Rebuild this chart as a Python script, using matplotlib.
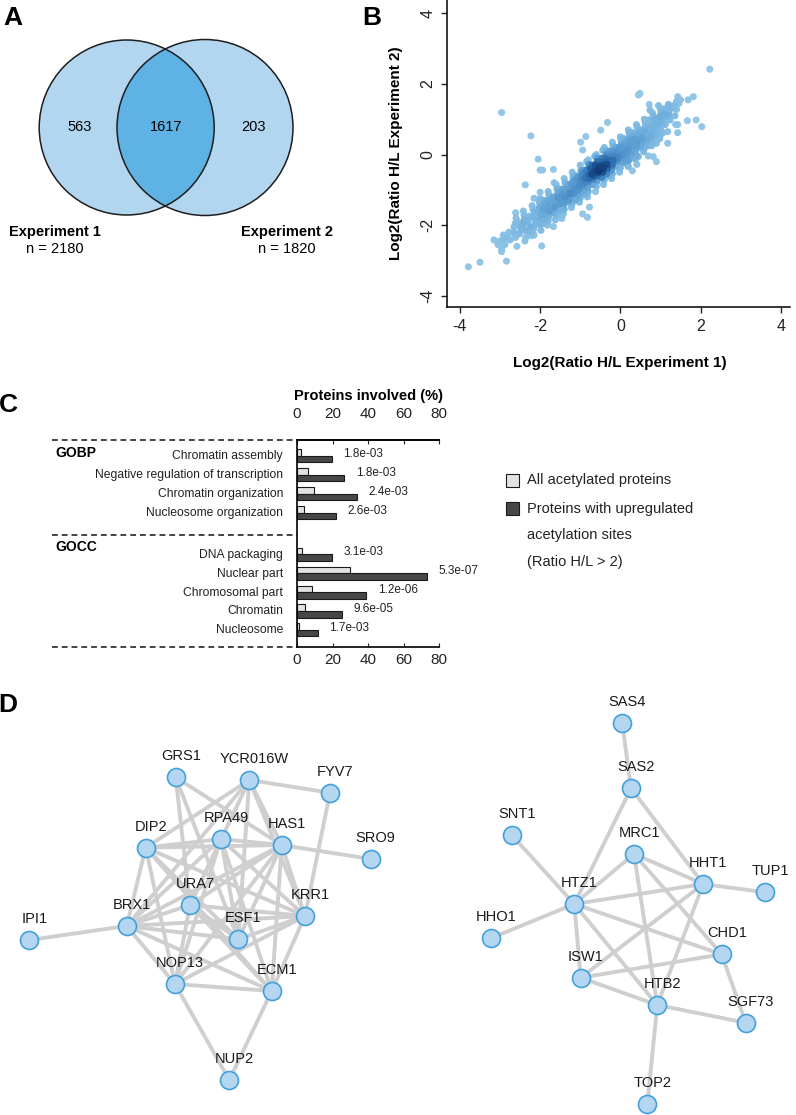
import numpy as np
import matplotlib.pyplot as plt
from matplotlib.patches import Circle, Rectangle
from matplotlib.colors import LinearSegmentedColormap

plt.rcParams['font.family'] = ['Liberation Sans', 'DejaVu Sans']
plt.rcParams['axes.unicode_minus'] = False

W, H = 796, 1115

# ---- A: overlap of the two experiments
venn_counts = [563, 1617, 203]
exp_names = ['Experiment 1', 'Experiment 2']
exp_totals = [2180, 1820]

# ---- B: log2 ratios, experiment 1 vs experiment 2
scatter_xy = np.array([
    # outliers
    (2.23, 2.42), (-2.96, 1.19), (-2.23, 0.53), (0.49, 1.73), (0.45, 1.69),
    (-3.79, -3.18), (-3.50, -3.05), (-2.84, -3.02), (-2.96, -2.66), (-2.96, -2.75),
    (-1.96, -2.59), (-3.15, -2.42), (-2.37, -0.86), (-2.05, -0.13), (-1.94, -0.44),
    (-2.0, -0.44), (-1.67, -0.42), (-1.65, -0.80), (-2.0, -1.07), (-2.15, -1.24),
    (-0.99, 0.35), (-0.86, 0.51), (-0.49, 0.69), (-0.32, 0.91), (-0.94, -1.68),
    (-0.82, -1.78), (-0.77, -1.49), (-2.61, -1.65), (-2.15, -2.28), (-1.67, -2.04),
    (-1.46, -1.81), (0.90, 0.32), (1.18, 0.32), (1.43, 0.62), (1.43, 0.85),
    (1.67, 0.96), (1.89, 0.98), (2.03, 0.79), (1.82, 1.64), (1.69, 1.55),
    (1.43, 1.64), (0.72, 1.42), (0.95, 1.39), (0.74, 1.26), (1.15, 1.07),
    (0.90, -0.20), (0.45, -0.06), (0.30, -0.46), (0.20, -0.34), (0.41, -0.28),
    (0.70, -0.04), (0.82, -0.06), (-0.94, 0.13),
    # main band
    (-3.05, -2.55), (-3.0, -2.45),
    (-2.9, -2.38), (-2.88, -2.55), (-2.92, -2.28),
    (-2.78, -2.2), (-2.75, -2.42), (-2.8, -2.31),
    (-2.65, -2.05), (-2.62, -2.35), (-2.66, -2.2), (-2.6, -1.95),
    (-2.52, -2.25), (-2.5, -2.0), (-2.55, -1.92), (-2.48, -2.12),
    (-2.4, -1.85), (-2.38, -2.15), (-2.42, -1.98), (-2.36, -2.35),
    (-2.28, -1.75), (-2.25, -2.05), (-2.3, -1.9), (-2.27, -2.2),
    (-2.15, -1.62), (-2.12, -1.95), (-2.18, -1.78), (-2.1, -1.85), (-2.16, -2.1),
    (-2.02, -1.5), (-2.0, -1.82), (-2.05, -1.65), (-1.98, -1.72), (-2.04, -1.95),
    (-1.9, -1.4), (-1.88, -1.7), (-1.92, -1.55), (-1.86, -1.62), (-1.9, -1.85), (-1.94, -1.48),
    (-1.78, -1.3), (-1.76, -1.6), (-1.8, -1.45), (-1.74, -1.52), (-1.78, -1.75), (-1.82, -1.38),
    (-1.66, -1.2), (-1.64, -1.5), (-1.68, -1.33), (-1.62, -1.42), (-1.66, -1.65), (-1.7, -1.25),
    (-1.54, -1.08), (-1.52, -1.4), (-1.56, -1.22), (-1.5, -1.3), (-1.54, -1.55), (-1.58, -1.15),
    (-1.42, -0.98), (-1.4, -1.3), (-1.44, -1.12), (-1.38, -1.2), (-1.42, -1.45), (-1.46, -1.05), (-1.4, -1.36),
    (-1.3, -0.85), (-1.28, -1.2), (-1.32, -1.0), (-1.26, -1.1), (-1.3, -1.35), (-1.34, -0.95), (-1.28, -1.28),
    (-1.18, -0.75), (-1.16, -1.1), (-1.2, -0.9), (-1.14, -0.99), (-1.18, -1.25), (-1.22, -0.82), (-1.16, -1.05),
    (-1.06, -0.65), (-1.04, -1.0), (-1.08, -0.8), (-1.02, -0.89), (-1.06, -1.15), (-1.1, -0.72), (-1.04, -0.95), (-1.0, -0.78),
    (-0.94, -0.52), (-0.92, -0.9), (-0.96, -0.7), (-0.9, -0.78), (-0.94, -1.05), (-0.98, -0.6), (-0.92, -0.84), (-0.88, -0.66),
    (-0.82, -0.42), (-0.8, -0.8), (-0.84, -0.6), (-0.78, -0.68), (-0.82, -0.95), (-0.86, -0.5), (-0.8, -0.74), (-0.76, -0.56),
    (-0.7, -0.3), (-0.68, -0.7), (-0.72, -0.5), (-0.66, -0.57), (-0.7, -0.85), (-0.74, -0.4), (-0.68, -0.62), (-0.64, -0.46),
    (-0.7, -0.55), (-0.66, -0.5),
    (-0.58, -0.2), (-0.56, -0.6), (-0.6, -0.4), (-0.54, -0.47), (-0.58, -0.75), (-0.62, -0.3), (-0.56, -0.52), (-0.52, -0.36),
    (-0.58, -0.45), (-0.55, -0.42), (-0.6, -0.5),
    (-0.46, -0.1), (-0.44, -0.5), (-0.48, -0.3), (-0.42, -0.37), (-0.46, -0.65), (-0.5, -0.2), (-0.44, -0.42), (-0.4, -0.26),
    (-0.46, -0.35), (-0.43, -0.32), (-0.48, -0.4),
    (-0.34, 0.0), (-0.32, -0.4), (-0.36, -0.2), (-0.3, -0.26), (-0.34, -0.55), (-0.38, -0.1), (-0.32, -0.32), (-0.28, -0.16),
    (-0.34, -0.28), (-0.36, -0.3),
    (-0.22, 0.1), (-0.2, -0.3), (-0.24, -0.08), (-0.18, -0.16), (-0.22, -0.45), (-0.26, 0.0), (-0.2, -0.22), (-0.16, -0.05),
    (-0.1, 0.2), (-0.08, -0.18), (-0.12, 0.02), (-0.06, -0.05), (-0.1, -0.35), (-0.14, 0.1), (-0.08, -0.1),
    (0.02, 0.3), (0.04, -0.08), (0.0, 0.12), (0.06, 0.05), (0.02, -0.25), (-0.02, 0.2), (0.04, -0.02),
    (0.14, 0.4), (0.16, 0.02), (0.12, 0.22), (0.18, 0.16), (0.14, -0.12), (0.1, 0.3), (0.16, 0.1),
    (0.26, 0.5), (0.28, 0.12), (0.24, 0.32), (0.3, 0.26), (0.26, 0.0), (0.22, 0.42), (0.28, 0.2),
    (0.38, 0.6), (0.4, 0.22), (0.36, 0.44), (0.42, 0.37), (0.38, 0.1), (0.34, 0.52),
    (0.5, 0.7), (0.52, 0.32), (0.48, 0.55), (0.54, 0.47), (0.5, 0.2), (0.46, 0.62),
    (0.62, 0.8), (0.64, 0.42), (0.6, 0.65), (0.66, 0.57), (0.62, 0.3),
    (0.74, 0.9), (0.76, 0.52), (0.72, 0.75), (0.78, 0.68), (0.74, 0.4),
    (0.86, 1.0), (0.88, 0.62), (0.84, 0.85), (0.9, 0.78), (0.86, 0.52),
    (0.98, 1.08), (1.0, 0.72), (0.96, 0.95), (1.02, 0.88),
    (1.1, 1.15), (1.12, 0.85), (1.08, 1.02),
    (1.22, 1.25), (1.24, 0.98), (1.2, 1.12),
    (1.34, 1.32), (1.36, 1.1), (1.32, 1.38),
    (1.46, 1.45), (1.5, 1.55), (1.4, 1.28),
    # band edges
    (-2.6, -1.8), (-2.58, -2.6), (-2.62, -1.95),
    (-2.42, -1.6), (-2.38, -2.45), (-2.4, -1.72),
    (-2.2, -1.45), (-2.22, -2.3), (-2.18, -1.55), (-2.2, -2.15),
    (-2.0, -1.25), (-1.98, -2.15), (-2.02, -1.35), (-2.0, -2.0),
    (-1.8, -1.05), (-1.82, -2.0), (-1.78, -1.15), (-1.8, -1.88),
    (-1.6, -0.85), (-1.62, -1.85), (-1.58, -0.98), (-1.6, -1.72),
    (-1.4, -0.68), (-1.42, -1.68), (-1.38, -0.8), (-1.4, -1.55),
    (-1.2, -0.5), (-1.22, -1.5), (-1.18, -0.62), (-1.2, -1.38),
    (-1.0, -0.3), (-1.02, -1.35), (-0.98, -0.45), (-1.0, -1.22),
    (-0.8, -0.15), (-0.82, -1.2), (-0.78, -0.28), (-0.8, -1.05), (-0.84, -0.2),
    (-0.6, 0.0), (-0.62, -1.05), (-0.58, -0.1), (-0.6, -0.9), (-0.64, -0.05),
    (-0.4, 0.2), (-0.42, -0.85), (-0.38, 0.08), (-0.4, -0.72), (-0.44, 0.12),
    (-0.2, 0.35), (-0.22, -0.68), (-0.18, 0.25), (-0.2, -0.55),
    (0.0, 0.5), (-0.02, -0.5), (0.02, 0.42), (0.0, -0.38),
    (0.2, 0.7), (0.18, -0.3), (0.22, 0.6), (0.2, -0.18),
    (0.4, 0.85), (0.38, -0.12), (0.42, 0.78), (0.4, -0.02),
    (0.6, 1.0), (0.58, 0.08), (0.62, 0.92), (0.6, 0.18),
    (0.8, 1.18), (0.78, 0.25), (0.82, 1.08), (0.8, 0.35),
    (1.0, 1.3), (0.98, 0.45), (1.02, 1.2), (1.0, 0.55),
    (1.2, 1.42), (1.18, 0.65), (1.22, 1.35),
    (1.4, 1.5), (1.38, 0.85),
    # band interior
    (-1.9, -1.3), (-1.92, -1.95), (-1.5, -0.98), (-1.52, -1.62),
    (-1.1, -0.6), (-1.12, -1.28), (-0.9, -0.45), (-0.88, -1.12),
    (-0.3, 0.1), (-0.28, -0.6), (0.1, 0.45), (0.08, -0.22),
    (0.3, 0.62), (0.32, -0.1), (0.7, 0.98), (0.68, 0.25),
    (1.1, 1.3), (1.06, 0.62),
])
ratio_exp1 = scatter_xy[:, 0]
ratio_exp2 = scatter_xy[:, 1]
n_overlap = 1617
pearson_r = 0.94

# ---- C: GO enrichment
go_terms = ['Chromatin assembly', 'Negative regulation of transcription',
            'Chromatin organization', 'Nucleosome organization',
            'DNA packaging', 'Nuclear part', 'Chromosomal part',
            'Chromatin', 'Nucleosome']
go_groups = ['GOBP'] * 4 + ['GOCC'] * 5
pct_all = [2.2, 6.0, 9.3, 3.7, 2.8, 29.7, 8.2, 4.3, 1.3]
pct_up = [19.6, 26.7, 33.8, 22.0, 19.6, 73.0, 39.0, 25.4, 11.8]
p_values = ['1.8e-03', '1.8e-03', '2.4e-03', '2.6e-03',
            '3.1e-03', '5.3e-07', '1.2e-06', '9.6e-05', '1.7e-03']
legend_labels = ['All acetylated proteins',
                 'Proteins with upregulated\nacetylation sites\n(Ratio H/L > 2)']

# ---- D: interaction networks (node layout in figure pixels)
net1_names = ['GRS1', 'YCR016W', 'FYV7', 'DIP2', 'RPA49', 'HAS1', 'SRO9', 'URA7',
              'KRR1', 'BRX1', 'IPI1', 'ESF1', 'NOP13', 'ECM1', 'NUP2']
net1_x = [175.7, 249.3, 330.0, 145.7, 221.0, 281.7, 370.7, 190.0,
          305.0, 126.7, 29.3, 238.3, 175.0, 271.7, 229.3]
net1_y = [777.3, 780.0, 792.7, 847.7, 839.0, 845.0, 859.0, 905.0,
          916.0, 926.0, 940.0, 939.3, 984.0, 991.0, 1080.0]
net1_edges = [('IPI1', 'BRX1'), ('GRS1', 'HAS1'), ('GRS1', 'ESF1'), ('GRS1', 'URA7'),
              ('YCR016W', 'FYV7'), ('YCR016W', 'DIP2'), ('YCR016W', 'HAS1'),
              ('YCR016W', 'KRR1'), ('YCR016W', 'ESF1'), ('YCR016W', 'URA7'),
              ('YCR016W', 'BRX1'), ('FYV7', 'KRR1'),
              ('DIP2', 'RPA49'), ('DIP2', 'HAS1'), ('DIP2', 'BRX1'), ('DIP2', 'NOP13'),
              ('DIP2', 'ESF1'), ('DIP2', 'ECM1'), ('DIP2', 'KRR1'),
              ('RPA49', 'HAS1'), ('RPA49', 'BRX1'), ('RPA49', 'NOP13'), ('RPA49', 'ESF1'),
              ('RPA49', 'ECM1'), ('RPA49', 'KRR1'), ('RPA49', 'URA7'),
              ('HAS1', 'SRO9'), ('HAS1', 'KRR1'), ('HAS1', 'ECM1'), ('HAS1', 'ESF1'),
              ('HAS1', 'BRX1'), ('HAS1', 'NOP13'), ('HAS1', 'URA7'),
              ('URA7', 'BRX1'), ('URA7', 'KRR1'), ('URA7', 'ESF1'), ('URA7', 'ECM1'),
              ('URA7', 'NOP13'), ('BRX1', 'KRR1'), ('BRX1', 'ESF1'), ('BRX1', 'NOP13'),
              ('BRX1', 'ECM1'), ('ESF1', 'KRR1'), ('KRR1', 'NOP13'), ('KRR1', 'ECM1'),
              ('NOP13', 'ECM1'), ('NOP13', 'NUP2'), ('ECM1', 'NUP2')]

net2_names = ['SAS4', 'SAS2', 'SNT1', 'MRC1', 'HHT1', 'TUP1', 'HTZ1', 'HHO1',
              'CHD1', 'ISW1', 'HTB2', 'SGF73', 'TOP2']
net2_x = [622.3, 631.0, 511.7, 634.0, 703.3, 765.0, 574.3, 490.7,
          721.7, 580.7, 657.3, 745.7, 647.3]
net2_y = [723.3, 788.3, 835.0, 854.0, 884.0, 892.3, 904.0, 938.3,
          954.3, 977.7, 1005.0, 1022.7, 1104.3]
net2_edges = [('SAS4', 'SAS2'), ('SAS2', 'HTZ1'), ('SAS2', 'HHT1'), ('SNT1', 'HTZ1'),
              ('HHO1', 'HTZ1'), ('MRC1', 'HTZ1'), ('MRC1', 'HHT1'), ('MRC1', 'HTB2'),
              ('MRC1', 'CHD1'), ('HHT1', 'TUP1'), ('HHT1', 'HTZ1'), ('HHT1', 'ISW1'),
              ('HHT1', 'HTB2'), ('HTZ1', 'ISW1'), ('HTZ1', 'HTB2'), ('HTZ1', 'CHD1'),
              ('ISW1', 'CHD1'), ('ISW1', 'HTB2'), ('CHD1', 'SGF73'), ('HTB2', 'SGF73'),
              ('HTB2', 'TOP2')]

fig = plt.figure(figsize=(W / 100, H / 100), dpi=100)

# full-figure canvas in pixel units (panels A, D, labels)
ax0 = fig.add_axes([0, 0, 1, 1])
ax0.set_xlim(0, W)
ax0.set_ylim(H, 0)
ax0.axis('off')

for lab, (px, py) in zip('ABCD', [(13, 18), (372, 18), (8, 405), (8, 705)]):
    ax0.text(px, py, lab, fontsize=19, fontweight='bold', ha='center', va='center')

# ---- panel A
light_blue = '#b3d6f0'
c1 = Circle((126.7, 127.5), 87.5, fc=light_blue, ec='none')
c2 = Circle((205.0, 127.5), 88.0, fc=light_blue, ec='none')
lens = Circle((205.0, 127.5), 88.0, fc='#5fb3e4', ec='none')
for p in (c1, c2, lens):
    ax0.add_patch(p)
lens.set_clip_path(c1)
for c in (c1, c2):
    ax0.add_patch(Circle(c.center, c.radius, fill=False, ec='#1e1e1e', lw=1.1))
for val, px in zip(venn_counts, [80, 166, 254]):
    ax0.text(px, 127, str(val), fontsize=10.5, ha='center', va='center')
for name, tot, px in zip(exp_names, exp_totals, [55, 287]):
    ax0.text(px, 232, name, fontsize=10.5, fontweight='bold', ha='center', va='center')
    ax0.text(px, 249, 'n = %d' % tot, fontsize=10.5, ha='center', va='center')

# ---- panel B
axb = fig.add_axes([446.7 / W, 1 - 307 / H, (790 - 446.7) / W, 307 / H])
pts = np.column_stack([ratio_exp1, ratio_exp2])
dist = np.sqrt(((pts[:, None, :] - pts[None, :, :]) ** 2).sum(-1))
dens = (dist < 0.3).sum(1).astype(float)
dens = (dens - dens.min()) / (dens.max() - dens.min())
order = np.argsort(dens)
cmap = LinearSegmentedColormap.from_list('bl', ['#94c7e7', '#78b5e0', '#4f94cc', '#2a6aad', '#0f3a78'])
axb.scatter(ratio_exp1[order], ratio_exp2[order], s=26, c=cmap(dens[order] ** 1.6),
            edgecolors='none')
axb.set_xlim(-4.33, 4.23)
axb.set_ylim(-4.32, 4.38)
axb.set_xticks([-4, -2, 0, 2, 4])
axb.set_yticks([-4, -2, 0, 2, 4])
axb.tick_params(direction='out', length=4.3, width=1, labelsize=11.5, pad=4,
                colors='#222222')
for t in axb.get_yticklabels():
    t.set_rotation(90)
    t.set_va('center')
for s in ['top', 'right']:
    axb.spines[s].set_visible(False)
for s in ['left', 'bottom']:
    axb.spines[s].set_linewidth(1.1)
axb.set_xlabel('Log2(Ratio H/L Experiment 1)', fontsize=11, fontweight='bold')
axb.set_ylabel('Log2(Ratio H/L Experiment 2)', fontsize=11, fontweight='bold')
axb.xaxis.set_label_coords(0.505, -0.16)
axb.yaxis.set_label_coords(-0.127, 0.5)
ax0.text(455, 10, 'n = %d' % n_overlap, fontsize=10.5, va='center')
ax0.text(455, 27, 'R = %.2f' % pearson_r, fontsize=10.5, va='center')

# ---- panel C
axc = fig.add_axes([297 / W, 1 - 647 / H, 142 / W, 207 / H])
grp = np.array(go_groups)
rows = np.arange(len(go_terms)) + np.where(grp == 'GOCC', 1.2, 0.0)
col_all, col_up = '#e2e2e2', '#474747'
axc.barh(rows - 0.12, pct_all, height=0.34, color=col_all, edgecolor='#1a1a1a', lw=0.8)
axc.barh(rows + 0.23, pct_up, height=0.34, color=col_up, edgecolor='#1a1a1a', lw=0.8)
for r, v, p in zip(rows, pct_up, p_values):
    axc.text(v + 6.5, r - 0.05, p, fontsize=8.5, va='center', color='#222222')
axc.set_xlim(0, 80)
axc.set_ylim(10.16, -0.79)
axc.set_yticks(rows)
axc.set_yticklabels(go_terms, fontsize=8.7, color='#222222')
axc.tick_params(axis='y', length=0, pad=10)
axc.set_xticks([0, 20, 40, 60, 80])
axc.tick_params(axis='x', direction='in', length=3, labelsize=11, pad=4, colors='#222222')
axc.spines['right'].set_visible(False)
for s in ['left', 'top', 'bottom']:
    axc.spines[s].set_linewidth(1.2)
top = axc.secondary_xaxis('top')
top.set_xticks([0, 20, 40, 60, 80])
top.tick_params(direction='in', length=3, labelsize=11, pad=14, colors='#222222')
top.spines['top'].set_linewidth(1.2)
mid = (rows[3] + rows[4]) / 2 + 0.12
for yl in [-0.79, mid, 10.16]:
    axc.plot([-1.725, 0], [yl, yl], transform=axc.get_yaxis_transform(), clip_on=False,
             color='#111111', lw=1.1, ls=(0, (3.8, 2.6)))
ax0.text(368, 396, 'Proteins involved (%)', fontsize=10.5, fontweight='bold',
         ha='center', va='center')
ax0.text(55, 453, 'GOBP', fontsize=10, fontweight='bold', va='center')
ax0.text(55, 547, 'GOCC', fontsize=10, fontweight='bold', va='center')
for col, py in zip([col_all, col_up], [480, 508]):
    ax0.add_patch(Rectangle((506, py - 6.5), 13, 13, fc=col, ec='#1a1a1a', lw=0.8))
ax0.text(527, 480, legend_labels[0], fontsize=10.5, va='center', color='#222222')
for i, line in enumerate(legend_labels[1].split('\n')):
    ax0.text(527, 509 + 26.5 * i, line, fontsize=10.5, va='center', color='#222222')

# ---- panel D
node_fc, node_ec, edge_c = '#b4d6f0', '#42a0dc', '#cfcfcf'
for names, xs, ys, edges in [(net1_names, net1_x, net1_y, net1_edges),
                             (net2_names, net2_x, net2_y, net2_edges)]:
    pos = {n: (x, y) for n, x, y in zip(names, xs, ys)}
    for a, b in edges:
        ax0.plot([pos[a][0], pos[b][0]], [pos[a][1], pos[b][1]], color=edge_c,
                 lw=2.8, zorder=1, solid_capstyle='round')
    ax0.scatter(xs, ys, s=168, c=node_fc, edgecolors=node_ec, linewidths=1.2, zorder=2)
    for n, x, y in zip(names, xs, ys):
        ax0.annotate(n, (x, y), xytext=(3.6, 15.2), textcoords='offset points',
                     ha='center', va='center', fontsize=10.5, color='#1a1a1a')

fig.savefig('out.png', dpi=100)
